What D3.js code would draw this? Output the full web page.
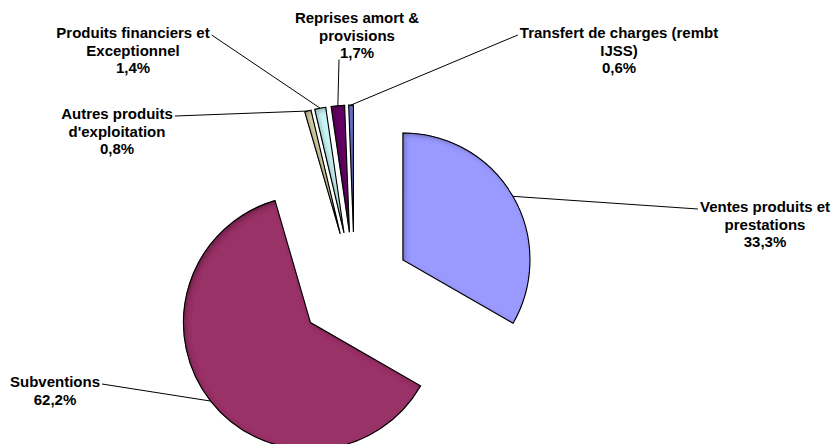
<!DOCTYPE html>
<html>
<head>
<meta charset="utf-8">
<script src="https://cdn.jsdelivr.net/npm/d3@7"></script>
<style>
  html, body { margin: 0; padding: 0; background: #fff; }
  svg text { font-family: "Liberation Sans", Arial, sans-serif; font-weight: bold; font-size: 15px; fill: #000; }
</style>
</head>
<body>
<svg id="chart" width="833" height="444"></svg>
<script>
// Répartition des produits (%)
const categories = [
  "Ventes produits et prestations",
  "Subventions",
  "Autres produits d'exploitation",
  "Produits financiers et Exceptionnel",
  "Reprises amort & provisions",
  "Transfert de charges (rembt IJSS)"
];
const values = [33.3, 62.2, 0.8, 1.4, 1.7, 0.6];
const labelLines = [
  ["Ventes produits et", "prestations"],
  ["Subventions"],
  ["Autres produits", "d'exploitation"],
  ["Produits financiers et", "Exceptionnel"],
  ["Reprises amort &", "provisions"],
  ["Transfert de charges (rembt", "IJSS)"]
];
const colors = ["#9999FF", "#993366", "#D9D4A6", "#C9F6F6", "#660066", "#6D72CC"];

// Layout
const cx = 354.5, cy = 288, radius = 127, explode = 56, lineH = 17.3;
// label block: centre x, first line centre y, side the leader leaves from
const labelPos = [
  { x: 765, y: 207, side: "left" },
  { x: 55,  y: 382, side: "right" },
  { x: 117, y: 114, side: "right" },
  { x: 133, y: 33,  side: "right" },
  { x: 357, y: 18,  side: "bottom", dx: -18 },
  { x: 619, y: 33,  side: "left" }
];

const fr = d3.formatLocale({ decimal: ",", thousands: " ", grouping: [3], currency: ["", " €"] });
const pct = v => fr.format(".1f")(v) + "%";

const svg = d3.select("#chart");
const defs = svg.append("defs");

// inner shadow along the upper-left edges of each slice
const f = defs.append("filter").attr("id", "inner").attr("x", "-20%").attr("y", "-20%").attr("width", "140%").attr("height", "140%");
f.append("feComponentTransfer").attr("in", "SourceAlpha").attr("result", "inv")
  .append("feFuncA").attr("type", "table").attr("tableValues", "1 0");
f.append("feOffset").attr("in", "inv").attr("dx", 3).attr("dy", 3).attr("result", "off");
f.append("feGaussianBlur").attr("in", "off").attr("stdDeviation", 2.5).attr("result", "blur");
f.append("feFlood").attr("flood-color", "#000").attr("flood-opacity", 0.5).attr("result", "col");
f.append("feComposite").attr("in", "col").attr("in2", "blur").attr("operator", "in").attr("result", "sh");
f.append("feComposite").attr("in", "sh").attr("in2", "SourceAlpha").attr("operator", "in").attr("result", "shIn");
const fm = f.append("feMerge");
fm.append("feMergeNode").attr("in", "SourceGraphic");
fm.append("feMergeNode").attr("in", "shIn");

const pie = d3.pie().sort(null).value(d => d).startAngle(0).endAngle(2 * Math.PI);
const arcs = pie(values);
const arc = d3.arc().innerRadius(0).outerRadius(radius);

const mid = a => (a.startAngle + a.endAngle) / 2;
const apex = a => [cx + Math.sin(mid(a)) * explode, cy - Math.cos(mid(a)) * explode];

// slices
const gSlices = svg.append("g");
arcs.forEach((a, i) => {
  const [ax, ay] = apex(a);
  gSlices.append("path")
    .attr("transform", `translate(${ax},${ay})`)
    .attr("d", arc(a))
    .attr("fill", colors[i])
    .attr("stroke", "#000")
    .attr("stroke-width", 1.1)
    .attr("stroke-linejoin", "miter")
    .attr("filter", "url(#inner)");
});

// labels and leader lines
const gLab = svg.append("g");
arcs.forEach((a, i) => {
  const p = labelPos[i];
  const lines = labelLines[i].concat([pct(values[i])]);
  const t = gLab.append("text").attr("text-anchor", "middle");
  lines.forEach((l, k) => {
    t.append("tspan").attr("x", p.x).attr("y", p.y + k * lineH).attr("dy", "0.35em").text(l);
  });
  const w0 = t.select("tspan").node().getComputedTextLength();
  let sx, sy;
  if (p.side === "left") { sx = p.x - w0 / 2 - 2; sy = p.y + 2; }
  else if (p.side === "right") { sx = p.x + w0 / 2 + 2; sy = p.y + 2; }
  else { sx = p.x + (p.dx || 0); sy = p.y + (lines.length - 1) * lineH + 7; }
  const [ax, ay] = apex(a);
  const ex = ax + Math.sin(mid(a)) * radius;
  const ey = ay - Math.cos(mid(a)) * radius;
  gLab.append("path")
    .attr("d", d3.line()([[sx, sy], [ex, ey]]))
    .attr("fill", "none")
    .attr("stroke", "#000")
    .attr("stroke-width", 1);
});
</script>
</body>
</html>
